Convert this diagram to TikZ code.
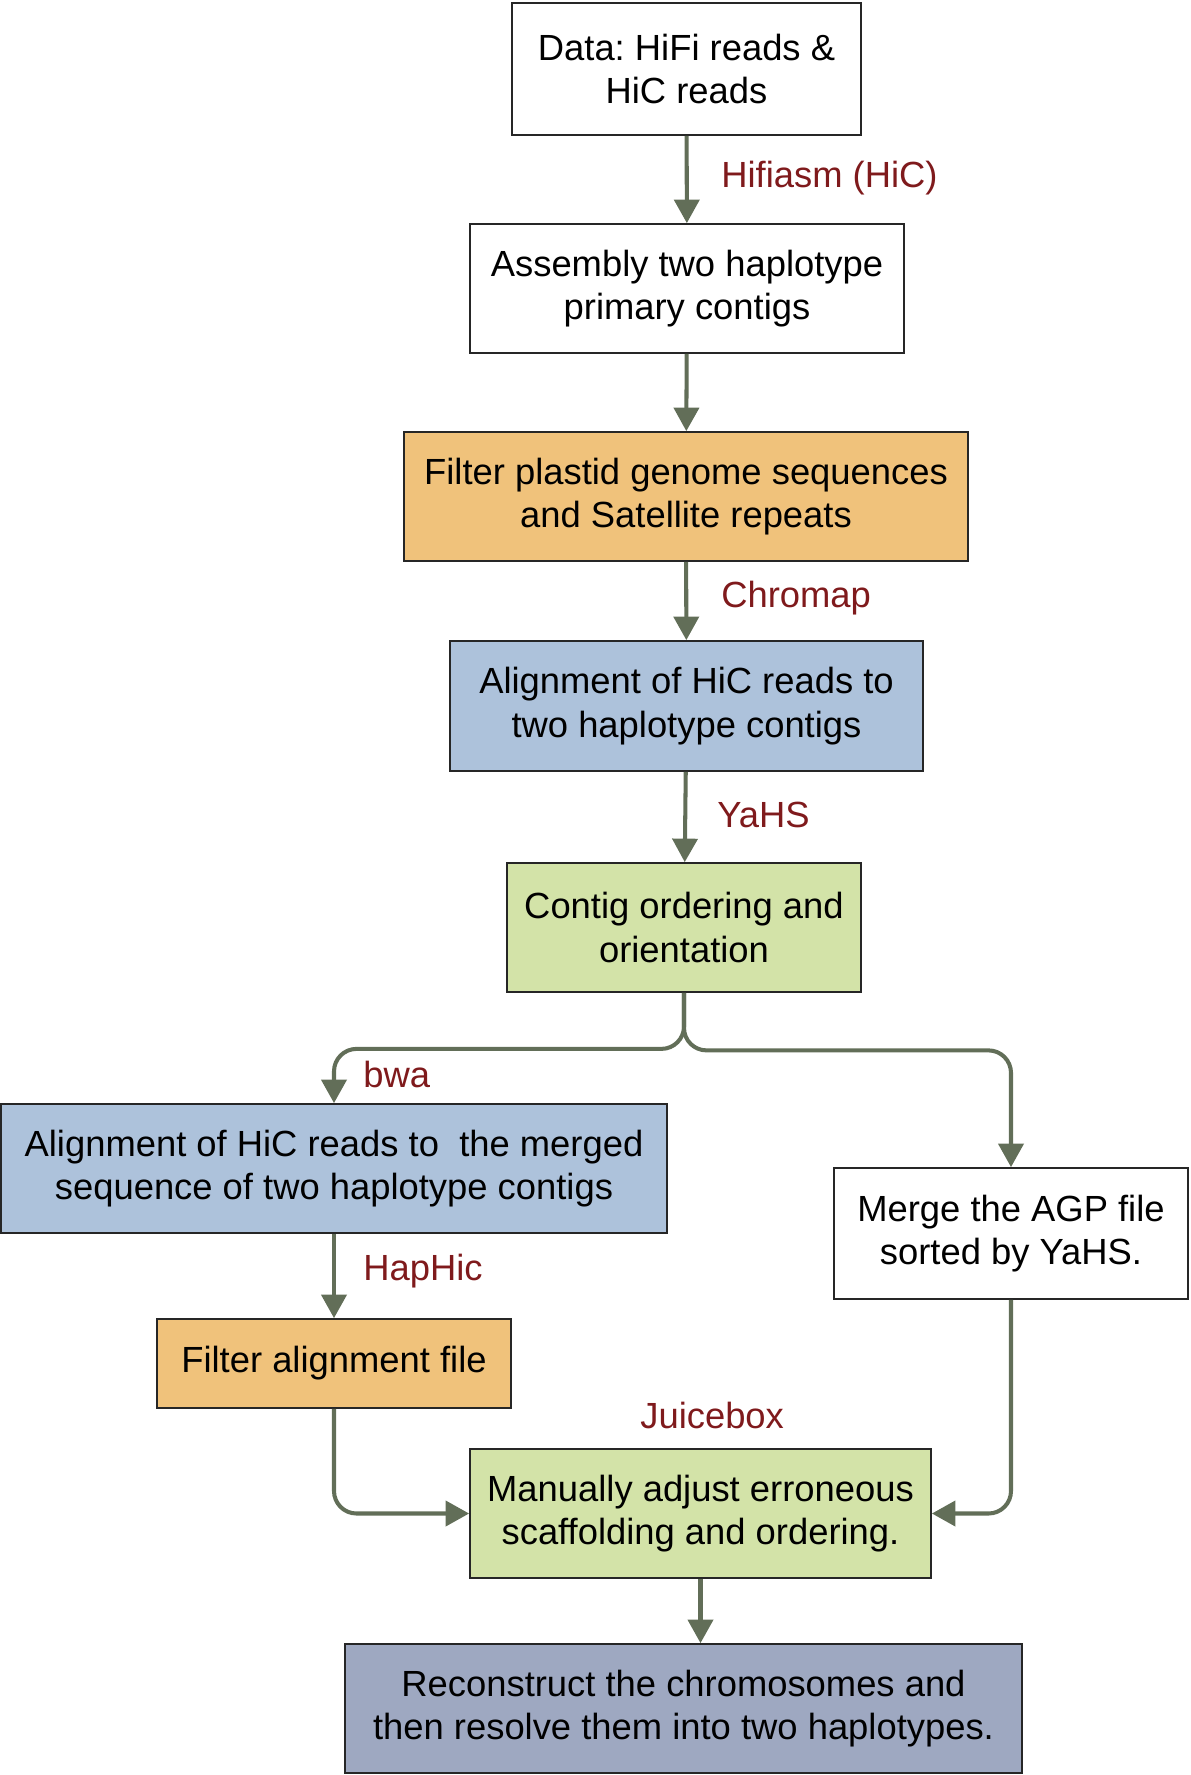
\documentclass[tikz,border=0pt]{standalone}
\usepackage{fontspec}
\setmainfont{Liberation Sans}
\usepackage{tikz}
\usetikzlibrary{arrows.meta, positioning, calc}
\usepackage{xcolor}
\frenchspacing

\definecolor{boxorange}{HTML}{F0C27B}
\definecolor{boxblue}{HTML}{ADC2DB}
\definecolor{boxgreen}{HTML}{D3E3A8}
\definecolor{boxslate}{HTML}{9EA8C1}
\definecolor{arrowgray}{HTML}{626E58}
\definecolor{tooltext}{HTML}{7F1A1C}

\begin{document}
\begin{tikzpicture}[
  font=\fontsize{20.7}{24.9}\selectfont,
  box/.style={draw=black!85, line width=1pt, fill=white,
              minimum height=2.58cm, align=center, inner sep=4pt},
  tool/.style={anchor=west, text=tooltext, inner sep=0pt},
  arr/.style={-{Triangle[length=0.47cm, width=0.5cm]}, draw=arrowgray,
              line width=2.3pt}
]
  \useasboundingbox (0,0) rectangle (23.8,-35.5);

  \node[box, minimum width=6.98cm, minimum height=2.64cm] (data) at (13.73,-1.38)
    {Data: HiFi reads \&\\HiC reads};
  \node[box, minimum width=8.68cm] (asm) at (13.74,-5.77)
    {Assembly two haplotype\\primary contigs};
  \node[box, fill=boxorange, minimum width=11.28cm] (plastid) at (13.72,-9.93)
    {Filter plastid genome sequences\\and Satellite repeats};
  \node[box, fill=boxblue, minimum width=9.46cm, minimum height=2.6cm] (align) at (13.73,-14.12)
    {Alignment of HiC reads to\\two haplotype contigs};
  \node[box, fill=boxgreen, minimum width=7.08cm] (contig) at (13.68,-18.55)
    {Contig ordering and\\orientation};
  \node[box, fill=boxblue, minimum width=13.32cm] (merged) at (6.68,-23.37)
    {Alignment of HiC reads to \ the merged\\sequence of two haplotype contigs};
  \node[box, minimum width=7.08cm, minimum height=2.62cm] (agp) at (20.22,-24.67)
    {Merge the AGP file\\sorted by YaHS.};
  \node[box, fill=boxorange, minimum width=7.08cm, minimum height=1.78cm] (filt) at (6.68,-27.27)
    {Filter alignment file};
  \node[box, fill=boxgreen, minimum width=9.22cm] (manual) at (14.01,-30.27)
    {Manually adjust erroneous\\scaffolding and ordering.};
  \node[box, fill=boxslate, minimum width=13.54cm] (recon) at (13.67,-34.17)
    {Reconstruct the chromosomes and\\then resolve them into two haplotypes.};

  % tool labels
  \node[tool] (hifiasm) at (14.42,-3.56)  {Hifiasm (HiC)};
  \node[tool] (chromap) at (14.42,-11.96) {Chromap};
  \node[tool] (yahs)    at (14.34,-16.3)  {YaHS};
  \node[tool] (bwa)     at (7.26,-21.48)  {bwa};
  \node[tool] (haphic)  at (7.26,-25.42)  {HapHic};
  \node[tool] (juice)   at (12.8,-28.3)   {Juicebox};

  \draw[arr] (data) -- (asm);
  \draw[arr] (asm) -- (plastid);
  \draw[arr] (plastid) -- (align);
  \draw[arr] (align) -- (contig);
  \draw[arr, rounded corners=0.45cm] (contig.south) -- ++(0,-1.12) -| (merged.north);
  \draw[arr, rounded corners=0.45cm] (contig.south) -- ++(0,-1.15) -| (agp.north);
  \draw[arr] (merged) -- (filt);
  \draw[arr, rounded corners=0.45cm] (filt.south) |- (manual.west);
  \draw[arr, rounded corners=0.45cm] (agp.south) |- (manual.east);
  \draw[arr] (manual.south) -- (manual.south |- recon.north);
\end{tikzpicture}
\end{document}
